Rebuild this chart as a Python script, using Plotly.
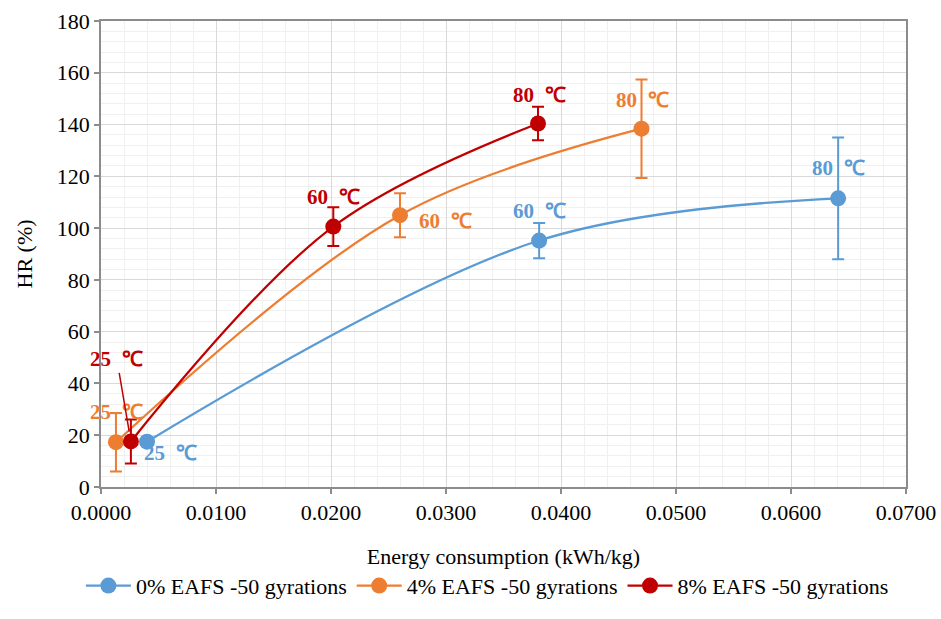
import plotly.graph_objects as go

# ---- data ----
series_names = ["0% EAFS -50 gyrations", "4% EAFS -50 gyrations", "8% EAFS -50 gyrations"]
temps = ["25 ℃", "60 ℃", "80 ℃"]

energy_0 = [0.0040, 0.0381, 0.0641]
hr_0 = [17.5, 95.2, 111.5]
err_0 = [1.5, 6.8, 23.5]

energy_4 = [0.0013, 0.0260, 0.0470]
hr_4 = [17.3, 105.0, 138.4]
err_4 = [11.3, 8.5, 19.0]

energy_8 = [0.0026, 0.0202, 0.0380]
hr_8 = [17.6, 100.6, 140.4]
err_8 = [8.5, 7.5, 6.5]

colors = ["#5B9BD5", "#ED7D31", "#C00000"]

x_ticks = [0.0, 0.01, 0.02, 0.03, 0.04, 0.05, 0.06, 0.07]
y_ticks = [0, 20, 40, 60, 80, 100, 120, 140, 160, 180]

FONT = "Liberation Serif"

def lbl(t):
    return t.replace(" ", "\u00a0 ")

fig = go.Figure()
for name, xs, ys, es, c in [
    (series_names[0], energy_0, hr_0, err_0, colors[0]),
    (series_names[1], energy_4, hr_4, err_4, colors[1]),
    (series_names[2], energy_8, hr_8, err_8, colors[2]),
]:
    fig.add_trace(go.Scatter(
        x=xs, y=ys, name=name, mode="lines+markers",
        line=dict(color=c, width=2.25, shape="spline", smoothing=1.0),
        marker=dict(color=c, size=16, symbol="circle"),
        error_y=dict(type="data", array=es, visible=True, color=c, thickness=2, width=6),
    ))

# ---- point labels (offsets in pixels) ----
label_offsets = {
    0: [(23, -11), (0, 30), (0, 30)],
    1: [(1, 30), (45, -6), (1, 29)],
    2: [None, (0, 30), (1, 29)],
}
data_sets = [(energy_0, hr_0), (energy_4, hr_4), (energy_8, hr_8)]
for si, (xs, ys) in enumerate(data_sets):
    for pi in range(3):
        off = label_offsets[si][pi]
        if off is None:
            continue
        fig.add_annotation(
            x=xs[pi], y=ys[pi], xref="x", yref="y", text=lbl(temps[pi]),
            showarrow=False, xshift=off[0], yshift=off[1],
            font=dict(family=FONT, size=21, color=colors[si], weight="bold"),
        )

# red 25 label with leader line
fig.add_annotation(
    x=energy_8[0], y=hr_8[0], xref="x", yref="y", text=lbl(temps[0]),
    showarrow=True, arrowhead=0, arrowwidth=1.5, arrowcolor=colors[2],
    ax=-14, ay=-82, standoff=10,
    font=dict(family=FONT, size=21, color=colors[2], weight="bold"),
)

axis_common = dict(
    showline=True, linecolor="#8c8c8c", linewidth=1.5, mirror=True,
    showgrid=True, gridcolor="#d9d9d9", gridwidth=1,
    ticks="outside", ticklen=5, tickcolor="#8c8c8c", tickwidth=1.5,
    tickfont=dict(family=FONT, size=22, color="#000000"),
    zeroline=False, automargin=False,
)

fig.update_xaxes(
    range=[0, 0.07], tickvals=x_ticks, tickformat=".4f",
    minor=dict(dtick=0.002, showgrid=True, gridcolor="#f0f0f0", gridwidth=1, ticks=""),
    title=dict(text="Energy consumption (kWh/kg)", font=dict(family=FONT, size=22, color="#000"), standoff=24),
    **axis_common,
)
fig.update_yaxes(
    range=[0, 180], tickvals=y_ticks,
    minor=dict(dtick=4, showgrid=True, gridcolor="#f0f0f0", gridwidth=1, ticks=""),
    title=dict(text="HR (%)", font=dict(family=FONT, size=22, color="#000"), standoff=18),
    **axis_common,
)

fig.update_layout(
    width=941, height=619,
    margin=dict(l=101, r=35, t=21, b=125),
    plot_bgcolor="white", paper_bgcolor="white",
    font=dict(family=FONT, size=22, color="#000"),
    showlegend=True,
    legend=dict(orientation="h", xref="paper", x=-0.025, xanchor="left",
                yref="paper", y=-0.212, yanchor="middle",
                font=dict(family=FONT, size=22, color="#000"), itemwidth=45,
                tracegroupgap=0),
)

fig.write_html("out.html", config={"displayModeBar": False},
               post_script="document.body.style.margin='0';")
